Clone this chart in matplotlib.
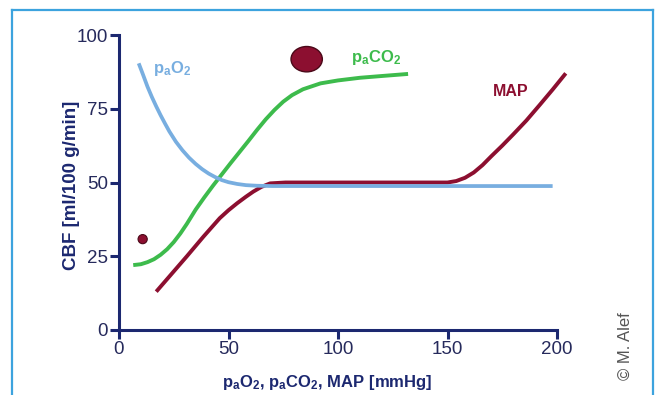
import matplotlib.pyplot as plt
from matplotlib.patches import Ellipse
from matplotlib.lines import Line2D

plt.rcParams['font.family'] = ['Liberation Sans', 'DejaVu Sans']
plt.rcParams['mathtext.fontset'] = 'custom'
plt.rcParams['mathtext.rm'] = 'Liberation Sans:bold'
plt.rcParams['mathtext.it'] = 'Liberation Sans:bold'
plt.rcParams['mathtext.bf'] = 'Liberation Sans:bold'

# Kurven
pao2_x = [9, 11, 13, 15, 17, 19, 21, 23, 26, 29, 32, 35, 38, 41, 44, 47, 50, 54, 58, 63, 70,
          100, 150, 198]
pao2_y = [90.4, 86.5, 82.5, 79, 75.8, 72.8, 70, 67.3, 63.8, 60.9, 58.4, 56.3, 54.5, 53, 51.8,
          50.8, 50.1, 49.5, 49.1, 48.9, 48.8, 48.8, 48.8, 48.8]

paco2_x = [6.5, 10, 13, 16, 19, 22, 25, 28, 31, 35, 39, 43, 47, 51, 55, 59, 63, 67, 71, 75,
           79, 84, 92, 100, 110, 120, 132]
paco2_y = [22, 22.3, 23, 24, 25.5, 27.4, 29.8, 32.7, 36, 40.8, 45, 49, 52.8, 56.6, 60.3, 64,
           67.8, 71.4, 74.6, 77.4, 79.6, 81.6, 83.6, 84.6, 85.5, 86.1, 86.8]

map_x = [17, 24, 31, 38.5, 46, 50, 54, 58, 61.3, 65, 69, 76, 100, 150, 154, 158, 162, 166,
         170, 175, 180, 186, 192, 198, 204]
map_y = [13, 19, 25, 31.6, 37.9, 40.6, 43, 45.2, 46.9, 48.5, 49.7, 50, 50, 50, 50.5, 51.6,
         53.4, 55.9, 58.9, 62.5, 66.3, 71, 76.2, 81.5, 87]

# Punkte (klein / groß)
dot_small = (10.8, 30.8)
dot_big = (85.7, 91.8)

x_ticks = [0, 50, 100, 150, 200]
y_ticks = [0, 25, 50, 75, 100]

navy = '#1c2870'
tick_col = '#262a5c'
blue = '#78aee0'
green = '#3dbb4c'
red = '#8c0f30'

fig = plt.figure(figsize=(6.57, 3.95), dpi=100)
ax = fig.add_axes([119 / 657, 65 / 395, 438 / 657, 295 / 395])

ax.plot(pao2_x, pao2_y, color=blue, lw=2.7, solid_capstyle='butt', solid_joinstyle='round',
        zorder=3, clip_on=False)
ax.plot(map_x, map_y, color=red, lw=2.8, solid_capstyle='butt', solid_joinstyle='round',
        zorder=2, clip_on=False)
ax.plot(paco2_x, paco2_y, color=green, lw=2.8, solid_capstyle='butt', solid_joinstyle='round',
        zorder=2, clip_on=False)

ax.add_patch(Ellipse(dot_small, 4.2, 3.1, facecolor=red, edgecolor='#4a0818', lw=0.8, zorder=4))
ax.add_patch(Ellipse(dot_big, 14.3, 8.6, facecolor=red, edgecolor='#4a0818', lw=1.0, zorder=4))

ax.text(24.5, 88.8, r'p$_\mathrm{a}$O$_\mathrm{2}$', color=blue, fontsize=12, fontweight='bold',
        ha='center', va='center')
ax.text(117.5, 92.5, r'p$_\mathrm{a}$CO$_\mathrm{2}$', color=green, fontsize=12, fontweight='bold',
        ha='center', va='center')
ax.text(179, 81, 'MAP', color=red, fontsize=11.5, fontweight='bold', ha='center', va='center')

ax.set_xlim(0, 200)
ax.set_ylim(0, 100)
ax.set_xticks(x_ticks)
ax.set_yticks(y_ticks)
for s in ['top', 'right']:
    ax.spines[s].set_visible(False)
for s in ['left', 'bottom']:
    ax.spines[s].set_color(navy)
    ax.spines[s].set_linewidth(2.2)
ax.tick_params(direction='out', length=6.5, width=2.2, color=navy, labelcolor=tick_col,
               labelsize=13.5, pad=1.5)

ax.set_ylabel('CBF [ml/100 g/min]', color=navy, fontsize=13.5, fontweight='bold')
ax.yaxis.set_label_coords(-0.09, 0.49)
ax.set_xlabel(r'p$_\mathrm{a}$O$_\mathrm{2}$, p$_\mathrm{a}$CO$_\mathrm{2}$, MAP [mmHg]',
              color=navy, fontsize=12, fontweight='bold')
ax.xaxis.set_label_coords(0.475, -0.145)

fig.text(625 / 657, 1 - 346 / 395, '© M. Alef', rotation=90, color='#555555', fontsize=12,
         ha='center', va='center')

# hellblauer Rahmen
frame = '#3ca3de'
fig.add_artist(Line2D([12 / 657, 653 / 657], [1 - 10 / 395, 1 - 10 / 395], color=frame, lw=1.6))
fig.add_artist(Line2D([12 / 657, 12 / 657], [0, 1 - 10 / 395], color=frame, lw=1.6))
fig.add_artist(Line2D([653 / 657, 653 / 657], [0, 1 - 10 / 395], color=frame, lw=1.6))

fig.savefig('out.png', dpi=100)
